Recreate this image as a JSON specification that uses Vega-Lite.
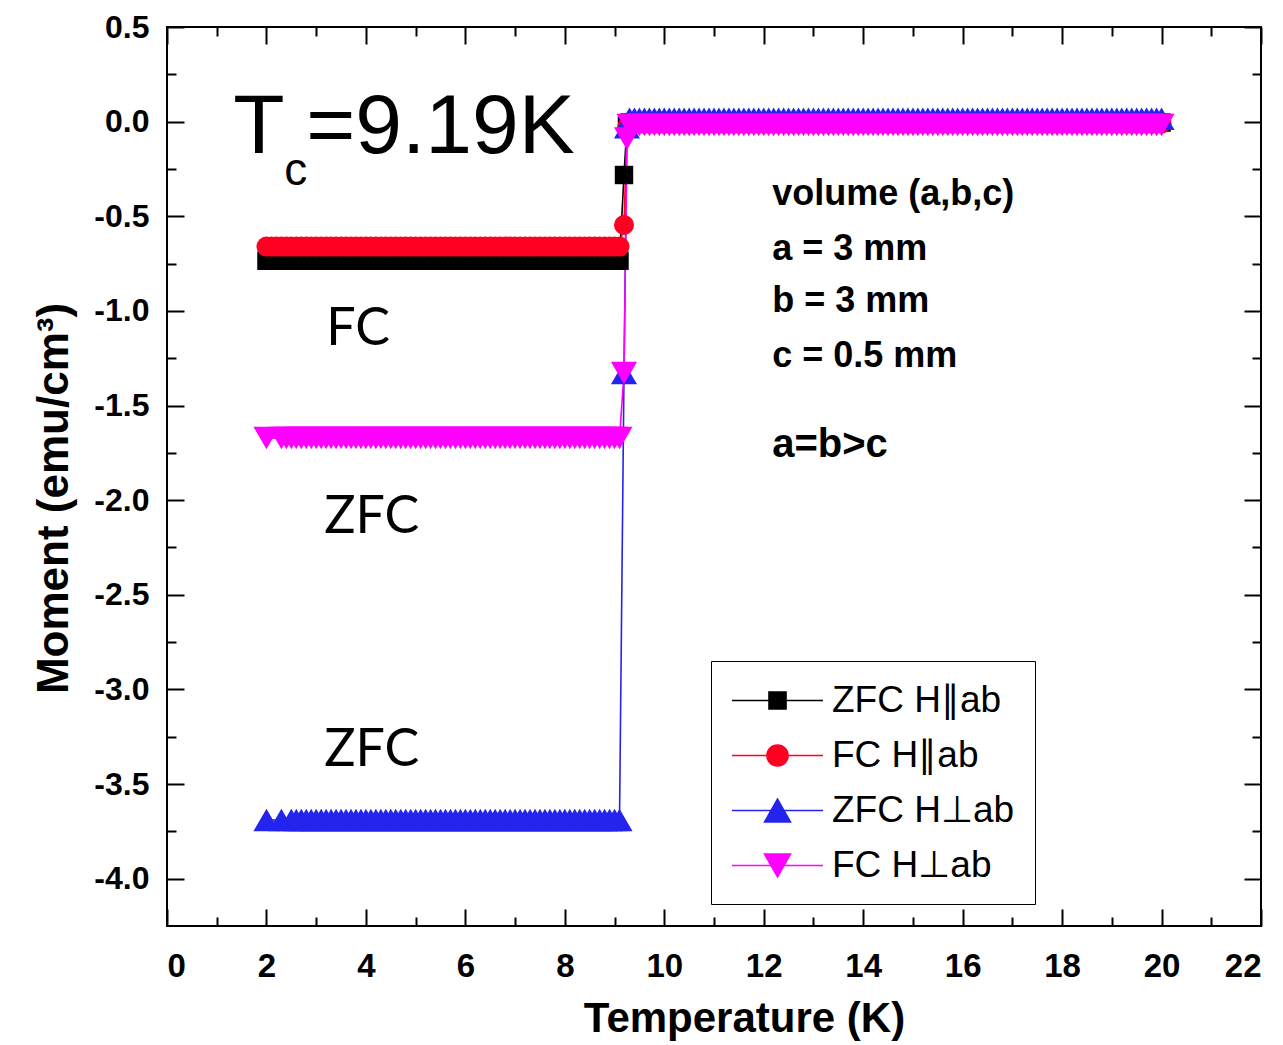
{
  "$schema": "https://vega.github.io/schema/vega-lite/v6.json",
  "width": 1094,
  "height": 899,
  "autosize": {"type": "none"},
  "padding": {"left": 167, "top": 27, "right": 22, "bottom": 119},
  "background": "white",
  "config": {
    "view": {"stroke": "black", "strokeWidth": 2},
    "axis": {"grid": false, "domain": false, "tickColor": "black", "tickWidth": 2, "labelFont": "Liberation Sans", "labelFontWeight": "bold", "labelColor": "black", "titleFont": "Liberation Sans", "titleFontWeight": "bold", "titleColor": "black"}
  },
  "datasets": {
    "main": [
      {"T":2,"a":-0.735,"b":-0.66,"c":-3.69,"d":-1.672},
      {"T":2.1,"a":-0.735,"b":-0.66,"c":null,"d":null},
      {"T":2.2,"a":-0.735,"b":-0.66,"c":null,"d":null},
      {"T":2.3,"a":-0.735,"b":-0.66,"c":-3.69,"d":-1.672},
      {"T":2.4,"a":-0.735,"b":-0.66,"c":null,"d":-1.672},
      {"T":2.5,"a":-0.735,"b":-0.66,"c":-3.69,"d":-1.672},
      {"T":2.6,"a":-0.735,"b":-0.66,"c":-3.69,"d":-1.672},
      {"T":2.7,"a":-0.735,"b":-0.66,"c":-3.69,"d":-1.672},
      {"T":2.8,"a":-0.735,"b":-0.66,"c":-3.69,"d":-1.672},
      {"T":2.9,"a":-0.735,"b":-0.66,"c":-3.69,"d":-1.672},
      {"T":3,"a":-0.735,"b":-0.66,"c":-3.69,"d":-1.672},
      {"T":3.1,"a":-0.735,"b":-0.66,"c":-3.69,"d":-1.672},
      {"T":3.2,"a":-0.735,"b":-0.66,"c":-3.69,"d":-1.672},
      {"T":3.3,"a":-0.735,"b":-0.66,"c":-3.69,"d":-1.672},
      {"T":3.4,"a":-0.735,"b":-0.66,"c":-3.69,"d":-1.672},
      {"T":3.5,"a":-0.735,"b":-0.66,"c":-3.69,"d":-1.672},
      {"T":3.6,"a":-0.735,"b":-0.66,"c":-3.69,"d":-1.672},
      {"T":3.7,"a":-0.735,"b":-0.66,"c":-3.69,"d":-1.672},
      {"T":3.8,"a":-0.735,"b":-0.66,"c":-3.69,"d":-1.672},
      {"T":3.9,"a":-0.735,"b":-0.66,"c":-3.69,"d":-1.672},
      {"T":4,"a":-0.735,"b":-0.66,"c":-3.69,"d":-1.672},
      {"T":4.1,"a":-0.735,"b":-0.66,"c":-3.69,"d":-1.672},
      {"T":4.2,"a":-0.735,"b":-0.66,"c":-3.69,"d":-1.672},
      {"T":4.3,"a":-0.735,"b":-0.66,"c":-3.69,"d":-1.672},
      {"T":4.4,"a":-0.735,"b":-0.66,"c":-3.69,"d":-1.672},
      {"T":4.5,"a":-0.735,"b":-0.66,"c":-3.69,"d":-1.672},
      {"T":4.6,"a":-0.735,"b":-0.66,"c":-3.69,"d":-1.672},
      {"T":4.7,"a":-0.735,"b":-0.66,"c":-3.69,"d":-1.672},
      {"T":4.8,"a":-0.735,"b":-0.66,"c":-3.69,"d":-1.672},
      {"T":4.9,"a":-0.735,"b":-0.66,"c":-3.69,"d":-1.672},
      {"T":5,"a":-0.735,"b":-0.66,"c":-3.69,"d":-1.672},
      {"T":5.1,"a":-0.735,"b":-0.66,"c":-3.69,"d":-1.672},
      {"T":5.2,"a":-0.735,"b":-0.66,"c":-3.69,"d":-1.672},
      {"T":5.3,"a":-0.735,"b":-0.66,"c":-3.69,"d":-1.672},
      {"T":5.4,"a":-0.735,"b":-0.66,"c":-3.69,"d":-1.672},
      {"T":5.5,"a":-0.735,"b":-0.66,"c":-3.69,"d":-1.672},
      {"T":5.6,"a":-0.735,"b":-0.66,"c":-3.69,"d":-1.672},
      {"T":5.7,"a":-0.735,"b":-0.66,"c":-3.69,"d":-1.672},
      {"T":5.8,"a":-0.735,"b":-0.66,"c":-3.69,"d":-1.672},
      {"T":5.9,"a":-0.735,"b":-0.66,"c":-3.69,"d":-1.672},
      {"T":6,"a":-0.735,"b":-0.66,"c":-3.69,"d":-1.672},
      {"T":6.1,"a":-0.735,"b":-0.66,"c":-3.69,"d":-1.672},
      {"T":6.2,"a":-0.735,"b":-0.66,"c":-3.69,"d":-1.672},
      {"T":6.3,"a":-0.735,"b":-0.66,"c":-3.69,"d":-1.672},
      {"T":6.4,"a":-0.735,"b":-0.66,"c":-3.69,"d":-1.672},
      {"T":6.5,"a":-0.735,"b":-0.66,"c":-3.69,"d":-1.672},
      {"T":6.6,"a":-0.735,"b":-0.66,"c":-3.69,"d":-1.672},
      {"T":6.7,"a":-0.735,"b":-0.66,"c":-3.69,"d":-1.672},
      {"T":6.8,"a":-0.735,"b":-0.66,"c":-3.69,"d":-1.672},
      {"T":6.9,"a":-0.735,"b":-0.66,"c":-3.69,"d":-1.672},
      {"T":7,"a":-0.735,"b":-0.66,"c":-3.69,"d":-1.672},
      {"T":7.1,"a":-0.735,"b":-0.66,"c":-3.69,"d":-1.672},
      {"T":7.2,"a":-0.735,"b":-0.66,"c":-3.69,"d":-1.672},
      {"T":7.3,"a":-0.735,"b":-0.66,"c":-3.69,"d":-1.672},
      {"T":7.4,"a":-0.735,"b":-0.66,"c":-3.69,"d":-1.672},
      {"T":7.5,"a":-0.735,"b":-0.66,"c":-3.69,"d":-1.672},
      {"T":7.6,"a":-0.735,"b":-0.66,"c":-3.69,"d":-1.672},
      {"T":7.7,"a":-0.735,"b":-0.66,"c":-3.69,"d":-1.672},
      {"T":7.8,"a":-0.735,"b":-0.66,"c":-3.69,"d":-1.672},
      {"T":7.9,"a":-0.735,"b":-0.66,"c":-3.69,"d":-1.672},
      {"T":8,"a":-0.735,"b":-0.66,"c":-3.69,"d":-1.672},
      {"T":8.1,"a":-0.735,"b":-0.66,"c":-3.69,"d":-1.672},
      {"T":8.2,"a":-0.735,"b":-0.66,"c":-3.69,"d":-1.672},
      {"T":8.3,"a":-0.735,"b":-0.66,"c":-3.69,"d":-1.672},
      {"T":8.4,"a":-0.735,"b":-0.66,"c":-3.69,"d":-1.672},
      {"T":8.5,"a":-0.735,"b":-0.66,"c":-3.69,"d":-1.672},
      {"T":8.6,"a":-0.735,"b":-0.66,"c":-3.69,"d":-1.672},
      {"T":8.7,"a":-0.735,"b":-0.66,"c":-3.69,"d":-1.672},
      {"T":8.8,"a":-0.735,"b":-0.66,"c":-3.69,"d":-1.672},
      {"T":8.9,"a":-0.735,"b":-0.66,"c":-3.69,"d":-1.672},
      {"T":9,"a":-0.735,"b":-0.66,"c":-3.69,"d":-1.672},
      {"T":9.1,"a":-0.735,"b":-0.66,"c":-3.69,"d":-1.672},
      {"T":9.19,"a":-0.282,"b":-0.546,"c":-1.328,"d":-1.328},
      {"T":9.25,"a":-0.02,"b":-0.03,"c":-0.03,"d":-0.09},
      {"T":9.3,"a":-0.005,"b":-0.01,"c":0.015,"d":-0.018},
      {"T":9.4,"a":-0.005,"b":-0.01,"c":0.015,"d":-0.018},
      {"T":9.5,"a":-0.005,"b":-0.01,"c":0.015,"d":-0.018},
      {"T":9.6,"a":-0.005,"b":-0.01,"c":0.015,"d":-0.018},
      {"T":9.7,"a":-0.005,"b":-0.01,"c":0.015,"d":-0.018},
      {"T":9.8,"a":-0.005,"b":-0.01,"c":0.015,"d":-0.018},
      {"T":9.9,"a":-0.005,"b":-0.01,"c":0.015,"d":-0.018},
      {"T":10,"a":-0.005,"b":-0.01,"c":0.015,"d":-0.018},
      {"T":10.1,"a":-0.005,"b":-0.01,"c":0.015,"d":-0.018},
      {"T":10.2,"a":-0.005,"b":-0.01,"c":0.015,"d":-0.018},
      {"T":10.3,"a":-0.005,"b":-0.01,"c":0.015,"d":-0.018},
      {"T":10.4,"a":-0.005,"b":-0.01,"c":0.015,"d":-0.018},
      {"T":10.5,"a":-0.005,"b":-0.01,"c":0.015,"d":-0.018},
      {"T":10.6,"a":-0.005,"b":-0.01,"c":0.015,"d":-0.018},
      {"T":10.7,"a":-0.005,"b":-0.01,"c":0.015,"d":-0.018},
      {"T":10.8,"a":-0.005,"b":-0.01,"c":0.015,"d":-0.018},
      {"T":10.9,"a":-0.005,"b":-0.01,"c":0.015,"d":-0.018},
      {"T":11,"a":-0.005,"b":-0.01,"c":0.015,"d":-0.018},
      {"T":11.1,"a":-0.005,"b":-0.01,"c":0.015,"d":-0.018},
      {"T":11.2,"a":-0.005,"b":-0.01,"c":0.015,"d":-0.018},
      {"T":11.3,"a":-0.005,"b":-0.01,"c":0.015,"d":-0.018},
      {"T":11.4,"a":-0.005,"b":-0.01,"c":0.015,"d":-0.018},
      {"T":11.5,"a":-0.005,"b":-0.01,"c":0.015,"d":-0.018},
      {"T":11.6,"a":-0.005,"b":-0.01,"c":0.015,"d":-0.018},
      {"T":11.7,"a":-0.005,"b":-0.01,"c":0.015,"d":-0.018},
      {"T":11.8,"a":-0.005,"b":-0.01,"c":0.015,"d":-0.018},
      {"T":11.9,"a":-0.005,"b":-0.01,"c":0.015,"d":-0.018},
      {"T":12,"a":-0.005,"b":-0.01,"c":0.015,"d":-0.018},
      {"T":12.1,"a":-0.005,"b":-0.01,"c":0.015,"d":-0.018},
      {"T":12.2,"a":-0.005,"b":-0.01,"c":0.015,"d":-0.018},
      {"T":12.3,"a":-0.005,"b":-0.01,"c":0.015,"d":-0.018},
      {"T":12.4,"a":-0.005,"b":-0.01,"c":0.015,"d":-0.018},
      {"T":12.5,"a":-0.005,"b":-0.01,"c":0.015,"d":-0.018},
      {"T":12.6,"a":-0.005,"b":-0.01,"c":0.015,"d":-0.018},
      {"T":12.7,"a":-0.005,"b":-0.01,"c":0.015,"d":-0.018},
      {"T":12.8,"a":-0.005,"b":-0.01,"c":0.015,"d":-0.018},
      {"T":12.9,"a":-0.005,"b":-0.01,"c":0.015,"d":-0.018},
      {"T":13,"a":-0.005,"b":-0.01,"c":0.015,"d":-0.018},
      {"T":13.1,"a":-0.005,"b":-0.01,"c":0.015,"d":-0.018},
      {"T":13.2,"a":-0.005,"b":-0.01,"c":0.015,"d":-0.018},
      {"T":13.3,"a":-0.005,"b":-0.01,"c":0.015,"d":-0.018},
      {"T":13.4,"a":-0.005,"b":-0.01,"c":0.015,"d":-0.018},
      {"T":13.5,"a":-0.005,"b":-0.01,"c":0.015,"d":-0.018},
      {"T":13.6,"a":-0.005,"b":-0.01,"c":0.015,"d":-0.018},
      {"T":13.7,"a":-0.005,"b":-0.01,"c":0.015,"d":-0.018},
      {"T":13.8,"a":-0.005,"b":-0.01,"c":0.015,"d":-0.018},
      {"T":13.9,"a":-0.005,"b":-0.01,"c":0.015,"d":-0.018},
      {"T":14,"a":-0.005,"b":-0.01,"c":0.015,"d":-0.018},
      {"T":14.1,"a":-0.005,"b":-0.01,"c":0.015,"d":-0.018},
      {"T":14.2,"a":-0.005,"b":-0.01,"c":0.015,"d":-0.018},
      {"T":14.3,"a":-0.005,"b":-0.01,"c":0.015,"d":-0.018},
      {"T":14.4,"a":-0.005,"b":-0.01,"c":0.015,"d":-0.018},
      {"T":14.5,"a":-0.005,"b":-0.01,"c":0.015,"d":-0.018},
      {"T":14.6,"a":-0.005,"b":-0.01,"c":0.015,"d":-0.018},
      {"T":14.7,"a":-0.005,"b":-0.01,"c":0.015,"d":-0.018},
      {"T":14.8,"a":-0.005,"b":-0.01,"c":0.015,"d":-0.018},
      {"T":14.9,"a":-0.005,"b":-0.01,"c":0.015,"d":-0.018},
      {"T":15,"a":-0.005,"b":-0.01,"c":0.015,"d":-0.018},
      {"T":15.1,"a":-0.005,"b":-0.01,"c":0.015,"d":-0.018},
      {"T":15.2,"a":-0.005,"b":-0.01,"c":0.015,"d":-0.018},
      {"T":15.3,"a":-0.005,"b":-0.01,"c":0.015,"d":-0.018},
      {"T":15.4,"a":-0.005,"b":-0.01,"c":0.015,"d":-0.018},
      {"T":15.5,"a":-0.005,"b":-0.01,"c":0.015,"d":-0.018},
      {"T":15.6,"a":-0.005,"b":-0.01,"c":0.015,"d":-0.018},
      {"T":15.7,"a":-0.005,"b":-0.01,"c":0.015,"d":-0.018},
      {"T":15.8,"a":-0.005,"b":-0.01,"c":0.015,"d":-0.018},
      {"T":15.9,"a":-0.005,"b":-0.01,"c":0.015,"d":-0.018},
      {"T":16,"a":-0.005,"b":-0.01,"c":0.015,"d":-0.018},
      {"T":16.1,"a":-0.005,"b":-0.01,"c":0.015,"d":-0.018},
      {"T":16.2,"a":-0.005,"b":-0.01,"c":0.015,"d":-0.018},
      {"T":16.3,"a":-0.005,"b":-0.01,"c":0.015,"d":-0.018},
      {"T":16.4,"a":-0.005,"b":-0.01,"c":0.015,"d":-0.018},
      {"T":16.5,"a":-0.005,"b":-0.01,"c":0.015,"d":-0.018},
      {"T":16.6,"a":-0.005,"b":-0.01,"c":0.015,"d":-0.018},
      {"T":16.7,"a":-0.005,"b":-0.01,"c":0.015,"d":-0.018},
      {"T":16.8,"a":-0.005,"b":-0.01,"c":0.015,"d":-0.018},
      {"T":16.9,"a":-0.005,"b":-0.01,"c":0.015,"d":-0.018},
      {"T":17,"a":-0.005,"b":-0.01,"c":0.015,"d":-0.018},
      {"T":17.1,"a":-0.005,"b":-0.01,"c":0.015,"d":-0.018},
      {"T":17.2,"a":-0.005,"b":-0.01,"c":0.015,"d":-0.018},
      {"T":17.3,"a":-0.005,"b":-0.01,"c":0.015,"d":-0.018},
      {"T":17.4,"a":-0.005,"b":-0.01,"c":0.015,"d":-0.018},
      {"T":17.5,"a":-0.005,"b":-0.01,"c":0.015,"d":-0.018},
      {"T":17.6,"a":-0.005,"b":-0.01,"c":0.015,"d":-0.018},
      {"T":17.7,"a":-0.005,"b":-0.01,"c":0.015,"d":-0.018},
      {"T":17.8,"a":-0.005,"b":-0.01,"c":0.015,"d":-0.018},
      {"T":17.9,"a":-0.005,"b":-0.01,"c":0.015,"d":-0.018},
      {"T":18,"a":-0.005,"b":-0.01,"c":0.015,"d":-0.018},
      {"T":18.1,"a":-0.005,"b":-0.01,"c":0.015,"d":-0.018},
      {"T":18.2,"a":-0.005,"b":-0.01,"c":0.015,"d":-0.018},
      {"T":18.3,"a":-0.005,"b":-0.01,"c":0.015,"d":-0.018},
      {"T":18.4,"a":-0.005,"b":-0.01,"c":0.015,"d":-0.018},
      {"T":18.5,"a":-0.005,"b":-0.01,"c":0.015,"d":-0.018},
      {"T":18.6,"a":-0.005,"b":-0.01,"c":0.015,"d":-0.018},
      {"T":18.7,"a":-0.005,"b":-0.01,"c":0.015,"d":-0.018},
      {"T":18.8,"a":-0.005,"b":-0.01,"c":0.015,"d":-0.018},
      {"T":18.9,"a":-0.005,"b":-0.01,"c":0.015,"d":-0.018},
      {"T":19,"a":-0.005,"b":-0.01,"c":0.015,"d":-0.018},
      {"T":19.1,"a":-0.005,"b":-0.01,"c":0.015,"d":-0.018},
      {"T":19.2,"a":-0.005,"b":-0.01,"c":0.015,"d":-0.018},
      {"T":19.3,"a":-0.005,"b":-0.01,"c":0.015,"d":-0.018},
      {"T":19.4,"a":-0.005,"b":-0.01,"c":0.015,"d":-0.018},
      {"T":19.5,"a":-0.005,"b":-0.01,"c":0.015,"d":-0.018},
      {"T":19.6,"a":-0.005,"b":-0.01,"c":0.015,"d":-0.018},
      {"T":19.7,"a":-0.005,"b":-0.01,"c":0.015,"d":-0.018},
      {"T":19.8,"a":-0.005,"b":-0.01,"c":0.015,"d":-0.018},
      {"T":19.9,"a":-0.005,"b":-0.01,"c":0.015,"d":-0.018},
      {"T":20,"a":-0.005,"b":-0.01,"c":0.015,"d":-0.018}
    ],
    "keys": [{"s":"a"},{"s":"b"},{"s":"c"},{"s":"d"}],
    "big": [
      {"T":1.33,"M":-0.166,"label":"T"},
      {"T":2.8,"M":-0.166,"label":"=9.19K"}
    ],
    "sub": [
      {"T":2.36,"M":-0.335,"label":"c"}
    ],
    "info": [
      {"T":12.17,"M":-0.44,"label":"volume (a,b,c)"},
      {"T":12.17,"M":-0.731,"label":"a = 3 mm"},
      {"T":12.17,"M":-1.006,"label":"b = 3 mm"},
      {"T":12.17,"M":-1.297,"label":"c = 0.5 mm"}
    ],
    "ineq": [
      {"T":12.17,"M":-1.772,"label":"a=b>c"}
    ],
    "phase": [
      {"T":3.2,"M":-1.18,"label":"FC"},
      {"T":3.16,"M":-2.174,"label":"ZFC"},
      {"T":3.16,"M":-3.405,"label":"ZFC"}
    ]
  },
  "resolve": {"axis": {"x": "independent", "y": "independent"}},
  "layer": [
    {
      "data": {"name": "main"},
      "transform": [{"fold": ["a", "b", "c", "d"], "as": ["s", "M"]}, {"filter": "isValid(datum.M)"}],
      "mark": {"type": "line", "strokeWidth": 1.6},
      "encoding": {
        "x": {"field": "T", "type": "quantitative", "scale": {"domain": [0, 22], "nice": false, "zero": false},
          "axis": {"orient": "bottom", "values": [0,2,4,6,8,10,12,14,16,18,20,22], "ticks": false, "labelPadding": 24, "labelFontSize": 33, "title": "Temperature (K)", "titleFontSize": 42, "titleX": 577, "titleY": 105, "titleBaseline": "alphabetic", "titleAlign": "center", "titleAnchor": null}},
        "y": {"field": "M", "type": "quantitative", "scale": {"domain": [-4.25, 0.5], "nice": false, "zero": false},
          "axis": {"orient": "left", "values": [0.5,0,-0.5,-1,-1.5,-2,-2.5,-3,-3.5,-4], "labelExpr": "(datum.value < 0 ? '-' : '') + format(abs(datum.value), '.1f')", "ticks": false, "labelPadding": 18, "labelFontSize": 32, "title": "Moment (emu/cm³)", "titleFontSize": 44, "titleAngle": -90, "titleX": -100, "titleY": 471, "titleAlign": "center", "titleBaseline": "alphabetic", "titleAnchor": null}},
        "color": {"field": "s", "type": "nominal", "scale": {"domain": ["a", "b", "c", "d"], "range": ["#000000", "#ff0022", "#2424ee", "#ff00ff"]}}
      }
    },
    {
      "data": {"name": "main"},
      "transform": [{"fold": ["a"], "as": ["s", "M"]}, {"filter": "isValid(datum.M)"}],
      "mark": {"type": "point", "filled": true, "opacity": 1, "shape": "square", "size": 340},
      "encoding": {
        "x": {"field": "T", "type": "quantitative", "axis": {"orient": "bottom", "values": [0,2,4,6,8,10,12,14,16,18,20,22], "labels": false, "tickSize": -17, "title": null}},
        "y": {"field": "M", "type": "quantitative", "axis": {"orient": "left", "values": [0.5,0,-0.5,-1,-1.5,-2,-2.5,-3,-3.5,-4], "labels": false, "tickSize": -17, "title": null}},
        "color": {"field": "s", "type": "nominal"}
      }
    },
    {
      "data": {"name": "main"},
      "transform": [{"fold": ["b"], "as": ["s", "M"]}, {"filter": "isValid(datum.M)"}],
      "mark": {"type": "point", "filled": true, "opacity": 1, "shape": "circle", "size": 400},
      "encoding": {
        "x": {"field": "T", "type": "quantitative", "axis": null},
        "y": {"field": "M", "type": "quantitative", "axis": null},
        "color": {"field": "s", "type": "nominal"}
      }
    },
    {
      "data": {"name": "main"},
      "transform": [{"fold": ["c"], "as": ["s", "M"]}, {"filter": "isValid(datum.M)"}],
      "mark": {"type": "point", "filled": true, "opacity": 1, "shape": "triangle-up", "size": 680},
      "encoding": {
        "x": {"field": "T", "type": "quantitative", "axis": null},
        "y": {"field": "M", "type": "quantitative", "axis": null},
        "color": {"field": "s", "type": "nominal"}
      }
    },
    {
      "data": {"name": "main"},
      "transform": [{"fold": ["d"], "as": ["s", "M"]}, {"filter": "isValid(datum.M)"}],
      "mark": {"type": "point", "filled": true, "opacity": 1, "shape": "triangle-down", "size": 680},
      "encoding": {
        "x": {"field": "T", "type": "quantitative", "axis": null},
        "y": {"field": "M", "type": "quantitative", "axis": null},
        "color": {"field": "s", "type": "nominal"}
      }
    },
    {
      "data": {"name": "keys"},
      "mark": {"type": "point", "filled": true, "opacity": 0},
      "encoding": {
        "color": {"field": "s", "type": "nominal",
          "legend": {"orient": "none", "legendX": 544, "legendY": 634, "title": null, "strokeColor": "black", "padding": 20, "labelFont": "Liberation Sans", "labelFontSize": 37, "labelColor": "black", "labelOffset": 62, "labelLimit": 400, "rowPadding": 17, "symbolSize": 1369, "symbolOpacity": 1, "symbolStrokeWidth": 1.6,
            "labelExpr": "datum.value === 'a' ? 'ZFC H∥ab' : datum.value === 'b' ? 'FC H∥ab' : datum.value === 'c' ? 'ZFC H⊥ab' : 'FC H⊥ab'",
            "encode": {"legend": {"strokeWidth": {"value": 2}}}}},
        "shape": {"field": "s", "type": "nominal",
          "scale": {"domain": ["a", "b", "c", "d"], "range": [
            "M-1,0H3.92M1,-0.46H1.92V0.46H1Z",
            "M-1,0H3.92M0.89,0A0.57,0.57,0,1,1,2.03,0A0.57,0.57,0,1,1,0.89,0Z",
            "M-1,0H3.92M1.46,-0.62L2.16,0.62L0.76,0.62Z",
            "M-1,0H3.92M1.46,0.62L2.16,-0.62L0.76,-0.62Z"]},
          "legend": {"orient": "none", "legendX": 544, "legendY": 634, "title": null, "strokeColor": "black", "padding": 20, "labelFont": "Liberation Sans", "labelFontSize": 37, "labelColor": "black", "labelOffset": 62, "labelLimit": 400, "rowPadding": 17, "symbolSize": 1369, "symbolOpacity": 1, "symbolStrokeWidth": 1.6,
            "labelExpr": "datum.value === 'a' ? 'ZFC H∥ab' : datum.value === 'b' ? 'FC H∥ab' : datum.value === 'c' ? 'ZFC H⊥ab' : 'FC H⊥ab'",
            "encode": {"legend": {"strokeWidth": {"value": 2}}}}}
      }
    },
    {
      "data": {"name": "big"},
      "mark": {"type": "text", "font": "Liberation Sans", "fontSize": 84, "align": "left", "baseline": "alphabetic", "color": "black"},
      "encoding": {
        "x": {"field": "T", "type": "quantitative", "axis": {"orient": "bottom", "values": [1,3,5,7,9,11,13,15,17,19,21], "labels": false, "tickSize": -9, "title": null}},
        "y": {"field": "M", "type": "quantitative", "axis": {"orient": "left", "values": [0.25,-0.25,-0.75,-1.25,-1.75,-2.25,-2.75,-3.25,-3.75], "labels": false, "tickSize": -9, "title": null}},
        "text": {"field": "label"}
      }
    },
    {
      "data": {"name": "sub"},
      "mark": {"type": "text", "font": "Liberation Sans", "fontSize": 46, "align": "left", "baseline": "alphabetic", "color": "black"},
      "encoding": {
        "x": {"field": "T", "type": "quantitative", "axis": {"orient": "top", "values": [0,2,4,6,8,10,12,14,16,18,20,22], "labels": false, "tickSize": -17, "title": null}},
        "y": {"field": "M", "type": "quantitative", "axis": {"orient": "right", "values": [0.5,0,-0.5,-1,-1.5,-2,-2.5,-3,-3.5,-4], "labels": false, "tickSize": -17, "title": null}},
        "text": {"field": "label"}
      }
    },
    {
      "data": {"name": "info"},
      "mark": {"type": "text", "font": "Liberation Sans", "fontWeight": "bold", "fontSize": 36, "align": "left", "baseline": "alphabetic", "color": "black"},
      "encoding": {
        "x": {"field": "T", "type": "quantitative", "axis": {"orient": "top", "values": [1,3,5,7,9,11,13,15,17,19,21], "labels": false, "tickSize": -9, "title": null}},
        "y": {"field": "M", "type": "quantitative", "axis": {"orient": "right", "values": [0.25,-0.25,-0.75,-1.25,-1.75,-2.25,-2.75,-3.25,-3.75], "labels": false, "tickSize": -9, "title": null}},
        "text": {"field": "label"}
      }
    },
    {
      "data": {"name": "ineq"},
      "mark": {"type": "text", "font": "Liberation Sans", "fontWeight": "bold", "fontSize": 40, "align": "left", "baseline": "alphabetic", "color": "black"},
      "encoding": {
        "x": {"field": "T", "type": "quantitative", "axis": null},
        "y": {"field": "M", "type": "quantitative", "axis": null},
        "text": {"field": "label"}
      }
    },
    {
      "data": {"name": "phase"},
      "mark": {"type": "text", "font": "Lato", "fontSize": 52, "align": "left", "baseline": "alphabetic", "color": "black"},
      "encoding": {
        "x": {"field": "T", "type": "quantitative", "axis": null},
        "y": {"field": "M", "type": "quantitative", "axis": null},
        "text": {"field": "label"}
      }
    }
  ]
}
